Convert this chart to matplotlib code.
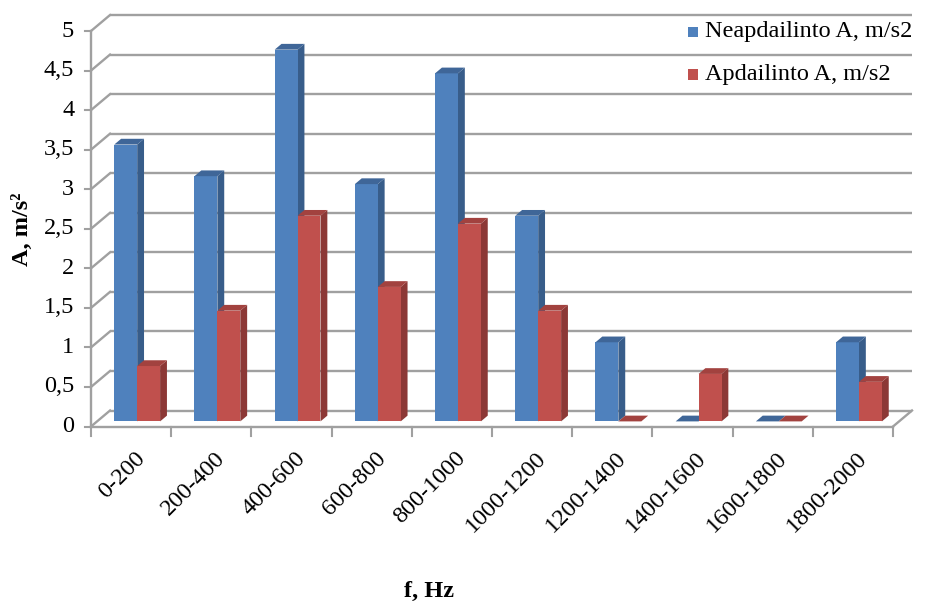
import matplotlib
matplotlib.use("Agg")
import matplotlib.pyplot as plt
from matplotlib.patches import Polygon, Rectangle

# Frequency bands and vibration acceleration per band
categories = ["0-200", "200-400", "400-600", "600-800", "800-1000",
              "1000-1200", "1200-1400", "1400-1600", "1600-1800", "1800-2000"]
untreated = [3.5, 3.1, 4.7, 3.0, 4.4, 2.6, 1.0, 0.0, 0.0, 1.0]
treated = [0.7, 1.4, 2.6, 1.7, 2.5, 1.4, 0.0, 0.6, 0.0, 0.5]
series_names = ["Neapdailinto A, m/s2", "Apdailinto A, m/s2"]
y_ticks = [0, 0.5, 1, 1.5, 2, 2.5, 3, 3.5, 4, 4.5, 5]
y_tick_labels = ["0", "0,5", "1", "1,5", "2", "2,5", "3", "3,5", "4", "4,5", "5"]

face_colors = ["#4F81BD", "#C0504D"]
side_colors = ["#385D8A", "#8C3836"]
top_colors = ["#3F6698", "#A2423F"]
grid_color = "#A0A0A0"
text_color = "#000000"

# Oblique 3D projection: depth vector in data units
DX, DY = 0.237, 0.202
F0, F1 = 0.32, 0.68          # bar front / back depth fractions
BAR_W = 1 / 3.5              # gap width 150 %
GAP = (1 - 2 * BAR_W) / 2

plt.rcParams["font.family"] = ["Liberation Serif", "DejaVu Serif"]
FS = 17.5

fig = plt.figure(figsize=(9.3, 6.02), dpi=100)
ax = fig.add_axes([0, 0, 1, 1])
ax.set_xlim(-1.1347, 10.4613)
ax.set_ylim(-2.2187, 5.392)
ax.axis("off")

n = len(categories)
ymax = y_ticks[-1]

# back wall and side wall grid lines
for v in y_ticks:
    ax.plot([DX, n + DX], [v + DY, v + DY], color=grid_color, lw=1.7,
            solid_capstyle="butt", zorder=1)
    ax.plot([0, DX], [v, v + DY], color=grid_color, lw=1.7, zorder=1)
# floor right edge
ax.plot([n, n + DX], [0, DY], color=grid_color, lw=1.7, zorder=1)

# value axis and category axis
ax.plot([0, 0], [0, ymax], color=grid_color, lw=1.7, zorder=2)
ax.plot([0, n], [0, 0], color=grid_color, lw=1.7, zorder=2)
for v, lab in zip(y_ticks, y_tick_labels):
    ax.plot([-0.075, 0], [v, v], color=grid_color, lw=1.5, zorder=2)
    ax.text(-0.21, v, lab, ha="right", va="center", fontsize=FS,
            color=text_color)
for i in range(n + 1):
    ax.plot([i, i], [0, -0.115], color=grid_color, lw=1.5, zorder=2)


def draw_bar(x0, w, h, k, z):
    ox0, oy0 = F0 * DX, F0 * DY
    ox1, oy1 = F1 * DX, F1 * DY
    xl, xr = x0 + ox0, x0 + w + ox0
    front = Rectangle((xl, oy0), w, h, facecolor=face_colors[k],
                      edgecolor="none", zorder=z)
    side = Polygon([(xr, oy0), (x0 + w + ox1, oy1), (x0 + w + ox1, h + oy1),
                    (xr, h + oy0)], closed=True, facecolor=side_colors[k],
                   edgecolor="none", zorder=z)
    top = Polygon([(xl, h + oy0), (xr, h + oy0), (x0 + w + ox1, h + oy1),
                   (x0 + ox1, h + oy1)], closed=True, facecolor=top_colors[k],
                  edgecolor="none", zorder=z)
    if h > 0:
        ax.add_patch(side)
        ax.add_patch(front)
    ax.add_patch(top)


z = 3
for i in range(n):
    for k, vals in enumerate([untreated, treated]):
        draw_bar(i + GAP + k * BAR_W, BAR_W, vals[i], k, z)
        z += 1

# category labels
for i, lab in enumerate(categories):
    ax.text(i + 0.5 + 0.04, -0.27, lab, rotation=45, ha="right", va="top",
            rotation_mode="anchor", fontsize=FS, color=text_color)

# axis titles
ax.text(-0.86, 2.5, "A, m/s²", rotation=90, ha="center", va="center",
        fontsize=FS, fontweight="bold", color=text_color)
ax.text(4.22, -2.08, "f, Hz", ha="center", va="center", fontsize=FS,
        fontweight="bold", color=text_color)

# legend
leg_y = [4.99, 4.45]
for k, name in enumerate(series_names):
    ax.add_patch(Rectangle((7.44, leg_y[k] - 0.065), 0.125, 0.13,
                           facecolor=face_colors[k], edgecolor="none",
                           zorder=50))
    ax.text(7.66, leg_y[k], name, ha="left", va="center", fontsize=FS,
            color=text_color, zorder=50)

fig.savefig("out.png", dpi=100)
